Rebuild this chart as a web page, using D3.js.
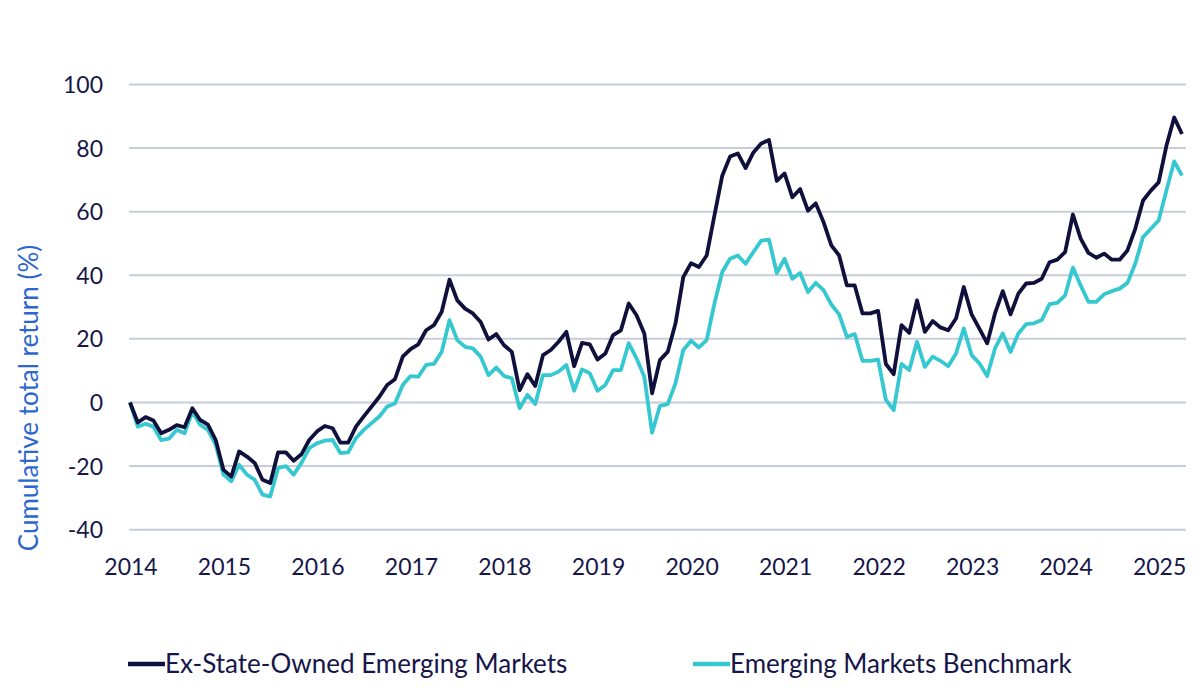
<!DOCTYPE html>
<html>
<head>
<meta charset="utf-8">
<script src="https://cdn.jsdelivr.net/npm/d3@7"></script>
<style>
  html, body { margin: 0; padding: 0; background: #ffffff; }
  svg { display: block; }
  text { font-family: Lato, "Open Sans", sans-serif; }
</style>
</head>
<body>
<svg id="chart" width="1200" height="697"></svg>
<script>
// ---- Data (monthly, starting Jan 2014) ----
const yearLabels = ["2014","2015","2016","2017","2018","2019","2020","2021","2022","2023","2024","2025"];
const yTicks = [-40, -20, 0, 20, 40, 60, 80, 100];
const seriesNames = ["Ex-State-Owned Emerging Markets", "Emerging Markets Benchmark"];

const exStateOwned = [
  0, -6.3, -4.6, -5.7, -9.7, -8.6, -7.1, -7.8, -1.8, -5.5, -7, -11.8,
  -21.2, -23.3, -15.4, -17, -19, -24.3, -25.3, -15.7, -15.7, -18.3, -16.3, -11.8,
  -9.1, -7.4, -8.1, -12.6, -12.6, -7.6, -4.4, -1.3, 1.8, 5.5, 7.3, 14.4,
  16.8, 18.3, 22.7, 24.3, 28.5, 38.6, 32.1, 29.5, 28, 25.3, 19.8, 21.5,
  18, 15.9, 3.9, 8.9, 5.2, 14.9, 16.5, 19.1, 22.2, 11.4, 18.7, 18.3,
  13.5, 15.4, 21.2, 22.7, 31.1, 27.4, 21.7, 2.9, 13.3, 15.9, 24.8, 39.4,
  43.8, 42.6, 46.2, 58.8, 71.3, 77.3, 78.3, 73.7, 78.6, 81.4, 82.5, 69.7,
  72, 64.5, 67.1, 60.3, 62.6, 56.7, 49.4, 46.2, 36.8, 36.8, 28, 28,
  28.8, 12.1, 8.9, 24.3, 21.9, 32.1, 22.2, 25.6, 23.6, 22.7, 26.4, 36.3,
  27.7, 23.2, 18.6, 28, 35, 27.7, 34.2, 37.4, 37.6, 38.9, 44.1, 44.9,
  47.3, 59.1, 51.5, 47, 45.5, 46.8, 44.9, 44.9, 47.8, 54.6, 63.5, 66.6,
  69.2, 80.7, 89.6, 84.4
];

const benchmark = [
  0, -7.6, -6.7, -7.6, -11.8, -11.4, -8.6, -9.7, -2.9, -7, -8.6, -13.3,
  -22.7, -24.8, -19.6, -22.7, -24.3, -29, -29.6, -20.6, -20, -22.7, -19, -14.4,
  -12.8, -12, -11.8, -15.9, -15.7, -11.2, -8.6, -6.5, -4.4, -1.3, -0.3, 5.5,
  8.3, 8.1, 11.8, 12.1, 15.9, 25.9, 19.6, 17.5, 17, 14.4, 8.6, 11,
  8.3, 7.6, -1.8, 2.4, -0.5, 8.6, 8.6, 9.7, 11.8, 3.7, 10.4, 9.2,
  3.7, 5.5, 10.2, 10.2, 18.6, 13.9, 8.1, -9.5, -1.1, -0.5, 6, 16.5,
  19.4, 17.3, 19.6, 31.1, 41, 45.2, 46.2, 43.6, 47.3, 50.9, 51.2, 40.7,
  45.2, 38.9, 40.7, 34.7, 37.6, 35.3, 30.8, 27.7, 20.6, 21.5, 13.1, 13.1,
  13.5, 0.8, -2.4, 12.1, 10.2, 19.1, 11.2, 14.4, 13.1, 11.4, 15.4, 23.3,
  14.9, 12.3, 8.3, 17, 21.7, 15.9, 21.7, 24.6, 24.9, 25.9, 30.9, 31.3,
  33.7, 42.4, 36.8, 31.6, 31.6, 34, 35, 35.8, 37.6, 43.6, 52, 54.6,
  57.2, 66.6, 75.8, 71.3
];

// ---- Styles ----
const colors = ["#10103c", "#36c8d0"];
const textColor = "#16164a";
const titleColor = "#2b67cf";
const gridColor = "#c6cdd9";

const svg = d3.select("#chart");

const x = d3.scaleLinear().domain([0, exStateOwned.length - 1]).range([130, 1182]);
const y = d3.scaleLinear().domain([-40, 100]).range([529.7, 84.4]);

// gridlines
svg.append("g").selectAll("line").data(yTicks).join("line")
  .attr("x1", 129).attr("x2", 1186)
  .attr("y1", d => y(d)).attr("y2", d => y(d))
  .attr("stroke", gridColor).attr("stroke-width", 2);

// y tick labels
svg.append("g").selectAll("text").data(yTicks).join("text")
  .attr("x", 103).attr("y", d => y(d) + 8.5)
  .attr("text-anchor", "end")
  .attr("font-size", 23)
  .attr("fill", textColor)
  .text(d => d);

// x tick labels
svg.append("g").selectAll("text").data(yearLabels).join("text")
  .attr("x", (d, i) => x(i * 12) + 1)
  .attr("y", 575)
  .attr("text-anchor", "middle")
  .attr("font-size", 23)
  .attr("fill", textColor)
  .text(d => d);

// y axis title
svg.append("text")
  .attr("transform", "translate(38,398) rotate(-90)")
  .attr("text-anchor", "middle")
  .attr("font-size", 26)
  .attr("fill", titleColor)
  .text("Cumulative total return (%)");

// lines
const line = d3.line().x((d, i) => x(i)).y(d => y(d)).curve(d3.curveLinear);
svg.append("path").datum(benchmark)
  .attr("d", line).attr("fill", "none")
  .attr("stroke", colors[1]).attr("stroke-width", 3.8)
  .attr("stroke-linejoin", "round");
svg.append("path").datum(exStateOwned)
  .attr("d", line).attr("fill", "none")
  .attr("stroke", colors[0]).attr("stroke-width", 3.8)
  .attr("stroke-linejoin", "round");

// legend
const legendItems = [
  { name: seriesNames[0], color: colors[0], x0: 128 },
  { name: seriesNames[1], color: colors[1], x0: 693 }
];
const lg = svg.append("g");
legendItems.forEach(it => {
  lg.append("line")
    .attr("x1", it.x0).attr("x2", it.x0 + 37)
    .attr("y1", 664).attr("y2", 664)
    .attr("stroke", it.color).attr("stroke-width", 4.5);
  lg.append("text")
    .attr("x", it.x0 + 37).attr("y", 673)
    .attr("font-size", 26)
    .attr("fill", textColor)
    .text(it.name);
});
</script>
</body>
</html>
